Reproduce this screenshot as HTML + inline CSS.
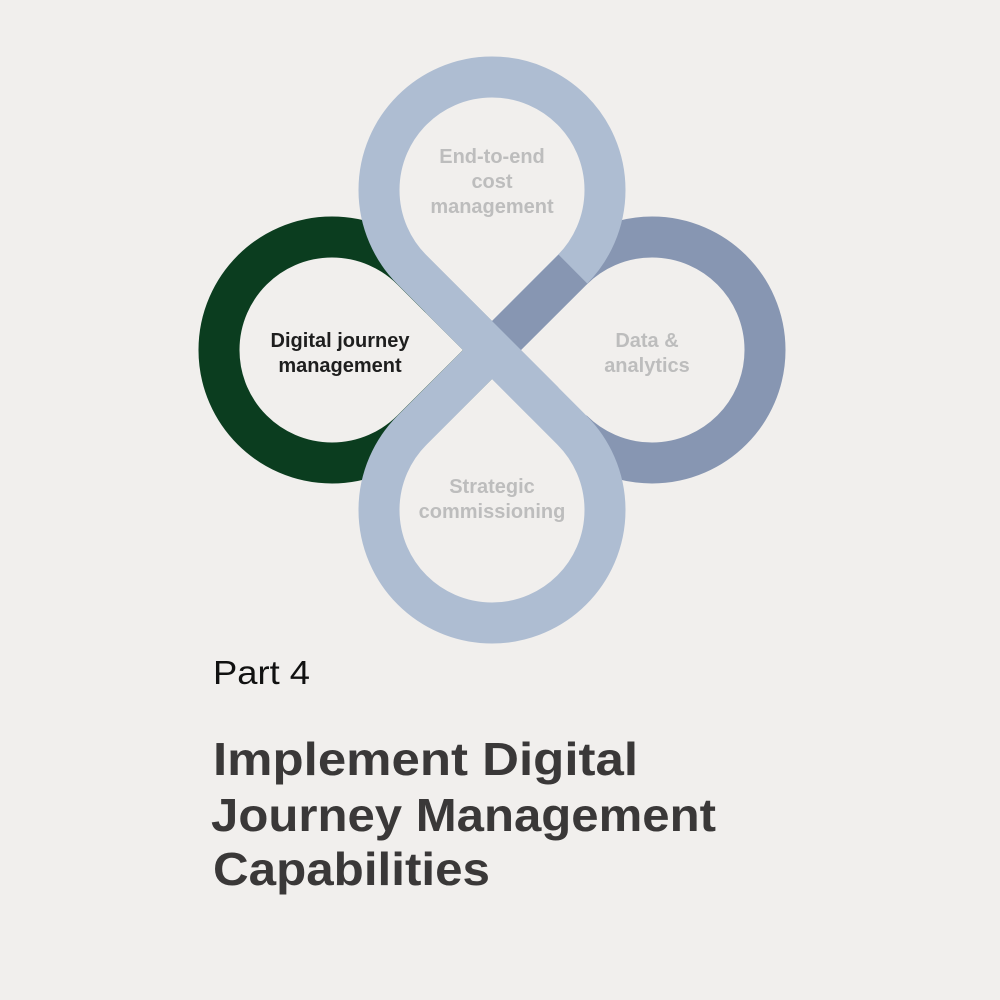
<!DOCTYPE html>
<html><head><meta charset="utf-8"><style>
html,body{margin:0;padding:0;background:#f1efed;}
svg{display:block;}
text{font-family:"Liberation Sans",sans-serif;}
</style></head><body>
<svg width="1000" height="1000" viewBox="0 0 1000 1000">
<rect width="1000" height="1000" fill="#f1efed"/>
<g fill="none" stroke-width="41" stroke-linejoin="round">
<!-- green left loop -->
<path d="M492 350 L411.9 429.9 A113 113 0 1 1 411.9 270.1 L492 350" stroke="#0b3d1f"/>
<!-- slate right loop (under) -->
<path d="M572.1 270.1 A113 113 0 1 1 572.1 429.9" stroke="#8796b2"/>
<!-- light blue figure eight -->
<path d="M412.1 269.9 L571.9 430.1 A113 113 0 1 1 412.1 430.1 L571.9 269.9 A113 113 0 1 0 412.1 269.9 Z" stroke="#aebdd2"/>
<!-- slate upper-right segment over blue -->
<path d="M492 350 L573 269.2" stroke="#8796b2"/>
<!-- blue diagonal on top -->
<path d="M440 298 L544 402" stroke="#aebdd2"/>
</g>
<g font-weight="bold" font-size="20" fill="#bdbdbd" text-anchor="middle">
<text x="492" y="163">End-to-end</text>
<text x="492" y="188">cost</text>
<text x="492" y="213">management</text>
<text x="647" y="347">Data &amp;</text>
<text x="647" y="372">analytics</text>
<text x="492" y="493">Strategic</text>
<text x="492" y="518">commissioning</text>
<text x="340" y="347" fill="#1e1e1e">Digital journey</text>
<text x="340" y="372" fill="#1e1e1e">management</text>
</g>
<text x="213" y="684" font-size="33" fill="#111" textLength="97" lengthAdjust="spacingAndGlyphs">Part 4</text>
<g font-weight="bold" font-size="46" fill="#3a3838">
<text x="213" y="775" textLength="425" lengthAdjust="spacingAndGlyphs">Implement Digital</text>
<text x="211" y="831" textLength="505" lengthAdjust="spacingAndGlyphs">Journey Management</text>
<text x="213" y="885" textLength="277" lengthAdjust="spacingAndGlyphs">Capabilities</text>
</g>
</svg>
</body></html>
